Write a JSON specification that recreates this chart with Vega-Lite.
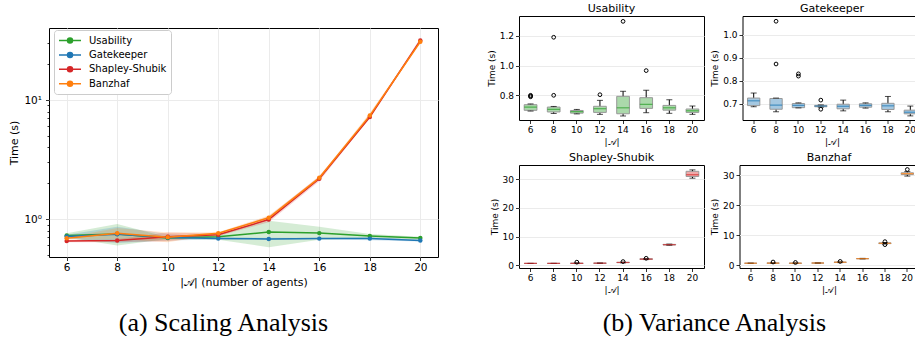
{
  "$schema": "https://vega.github.io/schema/vega-lite/v6.json",
  "background": "white",
  "padding": {"left": 8, "top": 2, "right": 0, "bottom": 0},
  "spacing": 47,
  "config": {
    "font": "DejaVu Sans",
    "view": {"stroke": "black", "strokeWidth": 1},
    "axis": {"domain": false, "ticks": true, "tickColor": "black", "tickSize": 3.5, "tickWidth": 0.8, "labelColor": "black", "titleColor": "black", "labelFontSize": 9, "titleFontSize": 9, "titleFontWeight": "normal", "labelPadding": 2, "titlePadding": 3, "gridColor": "#ebebeb", "gridWidth": 1, "labelOverlap": false},
    "axisX": {"grid": false},
    "axisY": {"grid": true},
    "title": {"fontSize": 11, "fontWeight": "normal", "offset": 2, "color": "black"}
  },
  "datasets": {
    "scaling": [
      {"s": "Usability", "n": 6, "mean": 0.728, "lo": 0.70, "hi": 0.76},
      {"s": "Usability", "n": 8, "mean": 0.748, "lo": 0.60, "hi": 0.91},
      {"s": "Usability", "n": 10, "mean": 0.692, "lo": 0.68, "hi": 0.705},
      {"s": "Usability", "n": 12, "mean": 0.71, "lo": 0.67, "hi": 0.75},
      {"s": "Usability", "n": 14, "mean": 0.778, "lo": 0.58, "hi": 0.97},
      {"s": "Usability", "n": 16, "mean": 0.762, "lo": 0.67, "hi": 0.86},
      {"s": "Usability", "n": 18, "mean": 0.72, "lo": 0.69, "hi": 0.75},
      {"s": "Usability", "n": 20, "mean": 0.692, "lo": 0.675, "hi": 0.71},
      {"s": "Gatekeeper", "n": 6, "mean": 0.715, "lo": 0.69, "hi": 0.74},
      {"s": "Gatekeeper", "n": 8, "mean": 0.745, "lo": 0.63, "hi": 0.86},
      {"s": "Gatekeeper", "n": 10, "mean": 0.70, "lo": 0.66, "hi": 0.75},
      {"s": "Gatekeeper", "n": 12, "mean": 0.687, "lo": 0.675, "hi": 0.70},
      {"s": "Gatekeeper", "n": 14, "mean": 0.68, "lo": 0.667, "hi": 0.695},
      {"s": "Gatekeeper", "n": 16, "mean": 0.685, "lo": 0.678, "hi": 0.692},
      {"s": "Gatekeeper", "n": 18, "mean": 0.685, "lo": 0.665, "hi": 0.705},
      {"s": "Gatekeeper", "n": 20, "mean": 0.66, "lo": 0.648, "hi": 0.672},
      {"s": "Shapley-Shubik", "n": 6, "mean": 0.653, "lo": 0.64, "hi": 0.667},
      {"s": "Shapley-Shubik", "n": 8, "mean": 0.66, "lo": 0.64, "hi": 0.68},
      {"s": "Shapley-Shubik", "n": 10, "mean": 0.71, "lo": 0.65, "hi": 0.77},
      {"s": "Shapley-Shubik", "n": 12, "mean": 0.738, "lo": 0.72, "hi": 0.755},
      {"s": "Shapley-Shubik", "n": 14, "mean": 0.99, "lo": 0.94, "hi": 1.05},
      {"s": "Shapley-Shubik", "n": 16, "mean": 2.18, "lo": 2.08, "hi": 2.3},
      {"s": "Shapley-Shubik", "n": 18, "mean": 7.2, "lo": 7.1, "hi": 7.3},
      {"s": "Shapley-Shubik", "n": 20, "mean": 31.7, "lo": 30.5, "hi": 33.0},
      {"s": "Banzhaf", "n": 6, "mean": 0.69, "lo": 0.675, "hi": 0.705},
      {"s": "Banzhaf", "n": 8, "mean": 0.76, "lo": 0.68, "hi": 0.84},
      {"s": "Banzhaf", "n": 10, "mean": 0.705, "lo": 0.64, "hi": 0.77},
      {"s": "Banzhaf", "n": 12, "mean": 0.76, "lo": 0.745, "hi": 0.775},
      {"s": "Banzhaf", "n": 14, "mean": 1.025, "lo": 0.98, "hi": 1.07},
      {"s": "Banzhaf", "n": 16, "mean": 2.22, "lo": 2.18, "hi": 2.26},
      {"s": "Banzhaf", "n": 18, "mean": 7.4, "lo": 7.0, "hi": 7.8},
      {"s": "Banzhaf", "n": 20, "mean": 30.9, "lo": 30.5, "hi": 31.3}
    ],
    "boxes": [
      {"s": "Usability", "n": 6, "lo": 0.694, "q1": 0.699, "med": 0.721, "q3": 0.737, "hi": 0.742},
      {"s": "Usability", "n": 8, "lo": 0.678, "q1": 0.688, "med": 0.706, "q3": 0.721, "hi": 0.725},
      {"s": "Usability", "n": 10, "lo": 0.675, "q1": 0.680, "med": 0.690, "q3": 0.698, "hi": 0.705},
      {"s": "Usability", "n": 12, "lo": 0.672, "q1": 0.685, "med": 0.71, "q3": 0.726, "hi": 0.766},
      {"s": "Usability", "n": 14, "lo": 0.661, "q1": 0.676, "med": 0.716, "q3": 0.793, "hi": 0.827},
      {"s": "Usability", "n": 16, "lo": 0.683, "q1": 0.712, "med": 0.739, "q3": 0.784, "hi": 0.834},
      {"s": "Usability", "n": 18, "lo": 0.679, "q1": 0.70, "med": 0.716, "q3": 0.732, "hi": 0.77},
      {"s": "Usability", "n": 20, "lo": 0.672, "q1": 0.685, "med": 0.696, "q3": 0.708, "hi": 0.728},
      {"s": "Gatekeeper", "n": 6, "lo": 0.686, "q1": 0.691, "med": 0.712, "q3": 0.724, "hi": 0.746},
      {"s": "Gatekeeper", "n": 8, "lo": 0.664, "q1": 0.675, "med": 0.693, "q3": 0.722, "hi": 0.724},
      {"s": "Gatekeeper", "n": 10, "lo": 0.681, "q1": 0.682, "med": 0.692, "q3": 0.70, "hi": 0.703},
      {"s": "Gatekeeper", "n": 12, "lo": 0.684, "q1": 0.686, "med": 0.689, "q3": 0.692, "hi": 0.694},
      {"s": "Gatekeeper", "n": 14, "lo": 0.668, "q1": 0.677, "med": 0.688, "q3": 0.697, "hi": 0.715},
      {"s": "Gatekeeper", "n": 16, "lo": 0.68, "q1": 0.684, "med": 0.692, "q3": 0.699, "hi": 0.703},
      {"s": "Gatekeeper", "n": 18, "lo": 0.664, "q1": 0.674, "med": 0.69, "q3": 0.701, "hi": 0.731},
      {"s": "Gatekeeper", "n": 20, "lo": 0.646, "q1": 0.655, "med": 0.662, "q3": 0.671, "hi": 0.689},
      {"s": "Shapley-Shubik", "n": 6, "lo": 0.62, "q1": 0.64, "med": 0.65, "q3": 0.665, "hi": 0.69},
      {"s": "Shapley-Shubik", "n": 8, "lo": 0.63, "q1": 0.645, "med": 0.66, "q3": 0.675, "hi": 0.70},
      {"s": "Shapley-Shubik", "n": 10, "lo": 0.60, "q1": 0.65, "med": 0.70, "q3": 0.75, "hi": 0.85},
      {"s": "Shapley-Shubik", "n": 12, "lo": 0.70, "q1": 0.725, "med": 0.738, "q3": 0.75, "hi": 0.78},
      {"s": "Shapley-Shubik", "n": 14, "lo": 0.88, "q1": 0.95, "med": 0.99, "q3": 1.03, "hi": 1.1},
      {"s": "Shapley-Shubik", "n": 16, "lo": 2.0, "q1": 2.1, "med": 2.18, "q3": 2.25, "hi": 2.35},
      {"s": "Shapley-Shubik", "n": 18, "lo": 7.0, "q1": 7.1, "med": 7.2, "q3": 7.3, "hi": 7.4},
      {"s": "Shapley-Shubik", "n": 20, "lo": 30.4, "q1": 31.0, "med": 31.6, "q3": 32.8, "hi": 33.3},
      {"s": "Banzhaf", "n": 6, "lo": 0.65, "q1": 0.675, "med": 0.69, "q3": 0.705, "hi": 0.73},
      {"s": "Banzhaf", "n": 8, "lo": 0.66, "q1": 0.70, "med": 0.74, "q3": 0.78, "hi": 0.82},
      {"s": "Banzhaf", "n": 10, "lo": 0.58, "q1": 0.64, "med": 0.70, "q3": 0.76, "hi": 0.82},
      {"s": "Banzhaf", "n": 12, "lo": 0.72, "q1": 0.745, "med": 0.76, "q3": 0.775, "hi": 0.80},
      {"s": "Banzhaf", "n": 14, "lo": 0.90, "q1": 0.98, "med": 1.02, "q3": 1.07, "hi": 1.15},
      {"s": "Banzhaf", "n": 16, "lo": 2.12, "q1": 2.18, "med": 2.22, "q3": 2.26, "hi": 2.32},
      {"s": "Banzhaf", "n": 18, "lo": 7.1, "q1": 7.25, "med": 7.35, "q3": 7.5, "hi": 7.6},
      {"s": "Banzhaf", "n": 20, "lo": 29.8, "q1": 30.3, "med": 30.6, "q3": 30.9, "hi": 31.3}
    ],
    "outliers": [
      {"s": "Usability", "n": 6, "v": 0.79},
      {"s": "Usability", "n": 6, "v": 0.80},
      {"s": "Usability", "n": 6, "v": 0.795},
      {"s": "Usability", "n": 8, "v": 1.19},
      {"s": "Usability", "n": 8, "v": 0.80},
      {"s": "Usability", "n": 12, "v": 0.804},
      {"s": "Usability", "n": 14, "v": 1.297},
      {"s": "Usability", "n": 16, "v": 0.966},
      {"s": "Gatekeeper", "n": 8, "v": 1.06},
      {"s": "Gatekeeper", "n": 8, "v": 0.873},
      {"s": "Gatekeeper", "n": 10, "v": 0.82},
      {"s": "Gatekeeper", "n": 10, "v": 0.83},
      {"s": "Gatekeeper", "n": 12, "v": 0.715},
      {"s": "Gatekeeper", "n": 12, "v": 0.675},
      {"s": "Shapley-Shubik", "n": 10, "v": 1.1},
      {"s": "Shapley-Shubik", "n": 14, "v": 1.3},
      {"s": "Shapley-Shubik", "n": 16, "v": 2.45},
      {"s": "Banzhaf", "n": 8, "v": 1.1},
      {"s": "Banzhaf", "n": 10, "v": 0.95},
      {"s": "Banzhaf", "n": 14, "v": 1.3},
      {"s": "Banzhaf", "n": 18, "v": 7.9},
      {"s": "Banzhaf", "n": 18, "v": 6.9},
      {"s": "Banzhaf", "n": 20, "v": 32.0}
    ]
  },
  "hconcat": [
    {
      "title": {"text": "(a) Scaling Analysis", "orient": "bottom", "anchor": "middle", "font": "Liberation Serif", "fontSize": 26, "offset": 22},
      "spacing": 10,
      "vconcat": [
        {
          "width": 389,
          "height": 1,
          "view": {"stroke": null},
          "data": {"values": []},
          "mark": "point"
        },
        {
          "width": 389,
          "height": 229,
          "data": {"name": "scaling"},
          "encoding": {
            "x": {"field": "n", "type": "quantitative", "scale": {"domain": [5.3, 20.7], "nice": false, "zero": false}, "axis": {"values": [6, 8, 10, 12, 14, 16, 18, 20], "format": "d", "tickCount": 100, "title": "|𝒜| (number of agents)", "grid": true, "labelFontSize": 10.5, "titleFontSize": 11, "titlePadding": 3}},
            "color": {"field": "s", "type": "nominal", "scale": {"domain": ["Usability", "Gatekeeper", "Shapley-Shubik", "Banzhaf"], "range": ["#2ca02c", "#1f77b4", "#d62728", "#ff7f0e"]}, "legend": {"title": null, "orient": "none", "legendX": 5, "legendY": 14, "fillColor": "white", "strokeColor": "#cccccc", "cornerRadius": 3, "padding": 4, "labelFontSize": 10, "symbolType": "M-1,0L3,0M1.4545,0A0.4545,0.4545,0,1,1,0.5455,0A0.4545,0.4545,0,1,1,1.4545,0Z", "symbolSize": 121, "symbolStrokeWidth": 1.5, "symbolOpacity": 1, "labelOffset": 18, "rowPadding": 2.4, "encode": {"symbols": {"update": {"fill": {"scale": "color", "field": "value"}, "stroke": {"scale": "color", "field": "value"}, "opacity": {"value": 1}}}}}}
          },
          "layer": [
            {
              "mark": {"type": "area", "opacity": 0.2},
              "encoding": {
                "y": {"field": "lo", "type": "quantitative", "title": "Time (s)", "scale": {"type": "log", "domain": [0.48, 40.3], "nice": false}, "axis": {"values": [0.5, 0.6, 0.7, 0.8, 0.9, 1, 2, 3, 4, 5, 6, 7, 8, 9, 10, 20, 30], "tickCount": 100, "labelExpr": "datum.value == 1 ? '10⁰' : datum.value == 10 ? '10¹' : ''", "labelOverlap": false, "gridOpacity": {"condition": {"test": "datum.value == 1 || datum.value == 10", "value": 1}, "value": 0}, "tickSize": {"condition": {"test": "datum.value == 1 || datum.value == 10", "value": 3.5}, "value": 2}, "labelFontSize": 10.5, "titleFontSize": 11, "titlePadding": 4, "labelPadding": 4}},
                "y2": {"field": "hi"}
              }
            },
            {
              "mark": {"type": "line", "strokeWidth": 1.5},
              "encoding": {"y": {"field": "mean", "type": "quantitative", "title": "Time (s)"}}
            },
            {
              "mark": {"type": "point", "filled": true, "size": 20, "opacity": 1},
              "encoding": {"y": {"field": "mean", "type": "quantitative", "title": "Time (s)"}}
            }
          ]
        }
      ]
    },
    {
      "title": {"text": "(b) Variance Analysis", "orient": "bottom", "anchor": "middle", "font": "Liberation Serif", "fontSize": 26, "offset": 15, "dx": 10},
      "spacing": 4,
      "vconcat": [
        {
          "spacing": 4.5,
          "hconcat": [
            {
              "width": 185, "height": 104,
              "title": {"text": "Usability"},
              "encoding": {"x": {"field": "n", "type": "ordinal", "scale": {"type": "band", "domain": [6, 8, 10, 12, 14, 16, 18, 20], "paddingInner": 0.45, "paddingOuter": 0.225}, "axis": {"labelAngle": 0, "title": "|𝒜|"}}},
              "layer": [
                {
                  "data": {"name": "boxes"},
                  "transform": [{"filter": "datum.s === 'Usability'"}],
                  "layer": [
                    {"mark": {"type": "rule", "color": "black", "strokeWidth": 1}, "encoding": {"y": {"field": "lo", "type": "quantitative", "title": "Time (s)", "scale": {"domain": [0.634, 1.333], "nice": false, "zero": false}, "axis": {"values": [0.8, 1.0, 1.2], "format": ".1f", "labelOverlap": false, "tickCount": 100}}, "y2": {"field": "hi"}}},
                    {"mark": {"type": "bar", "fill": "#abd9ab", "stroke": "#999999", "strokeWidth": 1}, "encoding": {"y": {"field": "q1", "type": "quantitative", "title": "Time (s)"}, "y2": {"field": "q3"}}},
                    {"mark": {"type": "tick", "color": "black", "size": 6, "thickness": 1}, "encoding": {"y": {"field": "lo", "type": "quantitative", "title": "Time (s)"}}},
                    {"mark": {"type": "tick", "color": "black", "size": 6, "thickness": 1}, "encoding": {"y": {"field": "hi", "type": "quantitative", "title": "Time (s)"}}},
                    {"mark": {"type": "tick", "color": "#2ca02c", "size": 12.7, "thickness": 1.2}, "encoding": {"y": {"field": "med", "type": "quantitative", "title": "Time (s)"}}}
                  ]
                },
                {
                  "data": {"name": "outliers"},
                  "transform": [{"filter": "datum.s === 'Usability'"}],
                  "mark": {"type": "point", "shape": "circle", "filled": false, "color": "black", "size": 14, "strokeWidth": 1, "opacity": 1},
                  "encoding": {"y": {"field": "v", "type": "quantitative", "title": "Time (s)"}}
                }
              ]
            },
            {
              "width": 179, "height": 104,
              "title": {"text": "Gatekeeper"},
              "encoding": {"x": {"field": "n", "type": "ordinal", "scale": {"type": "band", "domain": [6, 8, 10, 12, 14, 16, 18, 20], "paddingInner": 0.45, "paddingOuter": 0.225}, "axis": {"labelAngle": 0, "title": "|𝒜|"}}},
              "layer": [
                {
                  "data": {"name": "boxes"},
                  "transform": [{"filter": "datum.s === 'Gatekeeper'"}],
                  "layer": [
                    {"mark": {"type": "rule", "color": "black", "strokeWidth": 1}, "encoding": {"y": {"field": "lo", "type": "quantitative", "title": "Time (s)", "scale": {"domain": [0.628, 1.083], "nice": false, "zero": false}, "axis": {"values": [0.7, 0.8, 0.9, 1.0], "format": ".1f", "labelOverlap": false, "tickCount": 100}}, "y2": {"field": "hi"}}},
                    {"mark": {"type": "bar", "fill": "#a5c8e1", "stroke": "#999999", "strokeWidth": 1}, "encoding": {"y": {"field": "q1", "type": "quantitative", "title": "Time (s)"}, "y2": {"field": "q3"}}},
                    {"mark": {"type": "tick", "color": "black", "size": 6, "thickness": 1}, "encoding": {"y": {"field": "lo", "type": "quantitative", "title": "Time (s)"}}},
                    {"mark": {"type": "tick", "color": "black", "size": 6, "thickness": 1}, "encoding": {"y": {"field": "hi", "type": "quantitative", "title": "Time (s)"}}},
                    {"mark": {"type": "tick", "color": "#1f77b4", "size": 12.3, "thickness": 1.2}, "encoding": {"y": {"field": "med", "type": "quantitative", "title": "Time (s)"}}}
                  ]
                },
                {
                  "data": {"name": "outliers"},
                  "transform": [{"filter": "datum.s === 'Gatekeeper'"}],
                  "mark": {"type": "point", "shape": "circle", "filled": false, "color": "black", "size": 14, "strokeWidth": 1, "opacity": 1},
                  "encoding": {"y": {"field": "v", "type": "quantitative", "title": "Time (s)"}}
                }
              ]
            }
          ]
        },
        {
          "spacing": 4.5,
          "hconcat": [
            {
              "width": 185, "height": 103,
              "title": {"text": "Shapley-Shubik"},
              "encoding": {"x": {"field": "n", "type": "ordinal", "scale": {"type": "band", "domain": [6, 8, 10, 12, 14, 16, 18, 20], "paddingInner": 0.45, "paddingOuter": 0.225}, "axis": {"labelAngle": 0, "title": "|𝒜|"}}},
              "layer": [
                {
                  "data": {"name": "boxes"},
                  "transform": [{"filter": "datum.s === 'Shapley-Shubik'"}],
                  "layer": [
                    {"mark": {"type": "rule", "color": "black", "strokeWidth": 1}, "encoding": {"y": {"field": "lo", "type": "quantitative", "title": "Time (s)", "scale": {"domain": [-0.94, 35], "nice": false, "zero": false}, "axis": {"values": [0, 10, 20, 30], "format": "d", "labelOverlap": false, "tickCount": 100}}, "y2": {"field": "hi"}}},
                    {"mark": {"type": "bar", "fill": "#efa9a9", "stroke": "#999999", "strokeWidth": 1}, "encoding": {"y": {"field": "q1", "type": "quantitative", "title": "Time (s)"}, "y2": {"field": "q3"}}},
                    {"mark": {"type": "tick", "color": "black", "size": 6, "thickness": 1}, "encoding": {"y": {"field": "lo", "type": "quantitative", "title": "Time (s)"}}},
                    {"mark": {"type": "tick", "color": "black", "size": 6, "thickness": 1}, "encoding": {"y": {"field": "hi", "type": "quantitative", "title": "Time (s)"}}},
                    {"mark": {"type": "tick", "color": "#d62728", "size": 12.7, "thickness": 1.2}, "encoding": {"y": {"field": "med", "type": "quantitative", "title": "Time (s)"}}}
                  ]
                },
                {
                  "data": {"name": "outliers"},
                  "transform": [{"filter": "datum.s === 'Shapley-Shubik'"}],
                  "mark": {"type": "point", "shape": "circle", "filled": false, "color": "black", "size": 14, "strokeWidth": 1, "opacity": 1},
                  "encoding": {"y": {"field": "v", "type": "quantitative", "title": "Time (s)"}}
                }
              ]
            },
            {
              "width": 179, "height": 103,
              "title": {"text": "Banzhaf"},
              "encoding": {"x": {"field": "n", "type": "ordinal", "scale": {"type": "band", "domain": [6, 8, 10, 12, 14, 16, 18, 20], "paddingInner": 0.45, "paddingOuter": 0.225}, "axis": {"labelAngle": 0, "title": "|𝒜|"}}},
              "layer": [
                {
                  "data": {"name": "boxes"},
                  "transform": [{"filter": "datum.s === 'Banzhaf'"}],
                  "layer": [
                    {"mark": {"type": "rule", "color": "black", "strokeWidth": 1}, "encoding": {"y": {"field": "lo", "type": "quantitative", "title": "Time (s)", "scale": {"domain": [-0.9, 33.5], "nice": false, "zero": false}, "axis": {"values": [0, 10, 20, 30], "format": "d", "labelOverlap": false, "tickCount": 100}}, "y2": {"field": "hi"}}},
                    {"mark": {"type": "bar", "fill": "#ffcc9e", "stroke": "#999999", "strokeWidth": 1}, "encoding": {"y": {"field": "q1", "type": "quantitative", "title": "Time (s)"}, "y2": {"field": "q3"}}},
                    {"mark": {"type": "tick", "color": "black", "size": 6, "thickness": 1}, "encoding": {"y": {"field": "lo", "type": "quantitative", "title": "Time (s)"}}},
                    {"mark": {"type": "tick", "color": "black", "size": 6, "thickness": 1}, "encoding": {"y": {"field": "hi", "type": "quantitative", "title": "Time (s)"}}},
                    {"mark": {"type": "tick", "color": "#ff7f0e", "size": 12.3, "thickness": 1.2}, "encoding": {"y": {"field": "med", "type": "quantitative", "title": "Time (s)"}}}
                  ]
                },
                {
                  "data": {"name": "outliers"},
                  "transform": [{"filter": "datum.s === 'Banzhaf'"}],
                  "mark": {"type": "point", "shape": "circle", "filled": false, "color": "black", "size": 14, "strokeWidth": 1, "opacity": 1},
                  "encoding": {"y": {"field": "v", "type": "quantitative", "title": "Time (s)"}}
                }
              ]
            }
          ]
        }
      ]
    }
  ]
}
